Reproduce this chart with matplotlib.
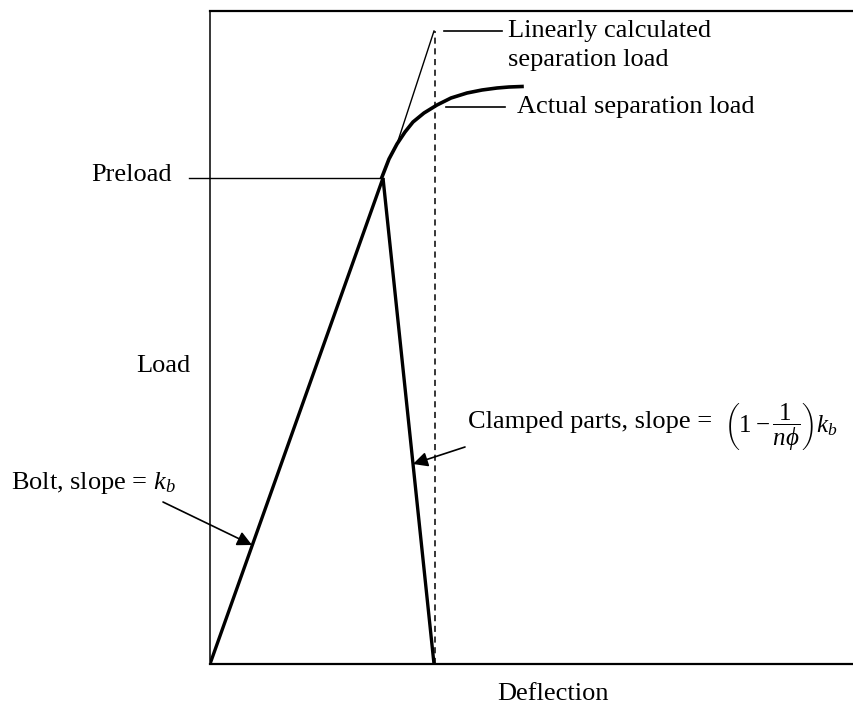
import matplotlib
matplotlib.use("Agg")
import matplotlib.pyplot as plt

# joint diagram: load vs deflection (arbitrary units, 1 unit = 100 px)
bolt_x = [0.0, 1.73]
bolt_y = [0.0, 4.86]
clamp_x = [1.73, 2.24]
clamp_y = [4.86, 0.0]
linear_x = [1.87, 2.24]
linear_y = [5.20, 6.33]
sep_x = [2.25, 2.25]
sep_y = [0.0, 6.33]
actual_x = [1.72, 1.79, 1.87, 1.95, 2.03, 2.14, 2.27, 2.41, 2.57, 2.72, 2.87, 2.99, 3.12]
actual_y = [4.87, 5.05, 5.20, 5.32, 5.42, 5.51, 5.59, 5.66, 5.71, 5.74, 5.76, 5.77, 5.775]
preload = 4.86

plt.rcParams['font.family'] = ['Liberation Serif', 'DejaVu Serif']
plt.rcParams['mathtext.fontset'] = 'custom'
plt.rcParams['mathtext.rm'] = 'Liberation Serif'
plt.rcParams['mathtext.it'] = 'Liberation Serif:italic'
fs = 19

fig = plt.figure(figsize=(8.54, 7.05), dpi=100)
ax = fig.add_axes([210 / 854, 41 / 705, 650 / 854, 653 / 705])
ax.set_xlim(0, 6.5)
ax.set_ylim(0, 6.53)
ax.set_xticks([])
ax.set_yticks([])
ax.spines['right'].set_visible(False)
ax.spines['top'].set_linewidth(1.6)
ax.spines['bottom'].set_linewidth(1.6)
ax.spines['left'].set_linewidth(1.1)

ax.plot(bolt_x, bolt_y, color='black', lw=2.4, solid_capstyle='butt')
ax.plot(clamp_x, clamp_y, color='black', lw=2.4, solid_capstyle='butt')
ax.plot(actual_x, actual_y, color='black', lw=2.6, solid_joinstyle='round')
ax.plot(linear_x, linear_y, color='black', lw=1.0)
ax.plot(sep_x, sep_y, color='black', lw=1.1, ls=(0, (4, 3)))

# preload leader
ax.plot([-0.21, bolt_x[1]], [preload, preload], color='black', lw=1.0, clip_on=False)
ax.text(-0.38, preload + 0.03, 'Preload', fontsize=fs, ha='right', va='center')

# separation load labels
ax.plot([2.34, 2.92], [6.33, 6.33], color='black', lw=1.2)
ax.text(2.98, 6.33, 'Linearly calculated', fontsize=fs, ha='left', va='center')
ax.text(2.98, 6.04, 'separation load', fontsize=fs, ha='left', va='center')
ax.plot([2.36, 2.95], [5.57, 5.57], color='black', lw=1.2)
ax.text(3.07, 5.57, 'Actual separation load', fontsize=fs, ha='left', va='center')

# axis labels
ax.text(-0.2, 2.98, 'Load', fontsize=fs, ha='right', va='center')
ax.text(2.87, -0.30, 'Deflection', fontsize=fs, ha='left', va='center', clip_on=False)

# bolt arrow
ax.annotate('', xy=(0.42, 1.19), xytext=(-0.47, 1.62),
            arrowprops=dict(arrowstyle='-|>', color='black', lw=1.2,
                            mutation_scale=22, shrinkA=0, shrinkB=0),
            annotation_clip=False)
ax.text(-0.34, 1.81, r'Bolt, slope = $k_b$', fontsize=fs, ha='right', va='center')

# clamped parts arrow
ax.annotate('', xy=(2.03, 2.0), xytext=(2.55, 2.17),
            arrowprops=dict(arrowstyle='-|>', color='black', lw=1.2,
                            mutation_scale=22, shrinkA=0, shrinkB=0))
ax.text(2.58, 2.42, 'Clamped parts, slope =', fontsize=fs, ha='left', va='center')
ax.text(5.14, 2.37, r'$\left(1-\dfrac{1}{n\phi}\right)k_b$', fontsize=18,
        ha='left', va='center')

fig.savefig('out.png', dpi=100)
